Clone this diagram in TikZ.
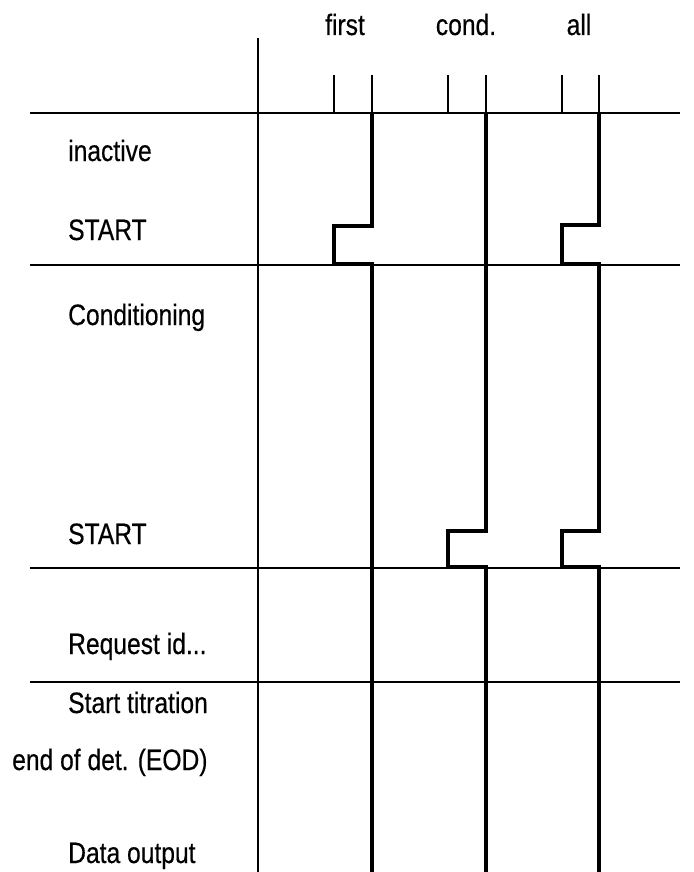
\documentclass[tikz,border=0pt]{standalone}
\usepackage{fontspec}
\setmainfont{Liberation Sans}[FakeStretch=0.835,FakeBold=0.4]
\begin{document}
\begin{tikzpicture}[x=1pt,y=-1pt,
  thin rule/.style={line width=1.8pt},
  signal/.style={line width=4.5pt,line join=miter,line cap=butt},
  label/.style={inner sep=0pt,font=\fontsize{29.5}{34}\selectfont}]
\useasboundingbox (0,0) rectangle (693,872);

% frame: column divider and row separators
\draw[thin rule] (258,38) -- (258,872);
\foreach \yy in {113,265,568,682}
  \draw[thin rule] (30,\yy) -- (680,\yy);

% short marks above each signal column
\foreach \xx in {334,372,448,486,562,599}
  \draw[thin rule] (\xx,75) -- (\xx,113);

% column headings
\node[label,anchor=base] (hfirst) at (345,35) {first};
\node[label,anchor=base] (hcond) at (466,35) {cond.};
\node[label,anchor=base] (hall) at (579,35) {all};

% row labels
\node[label,anchor=base west] (l1) at (68,161) {inactive};
\node[label,anchor=base west] (l2) at (68,240) {START};
\node[label,anchor=base west] (l3) at (68,325) {Conditioning};
\node[label,anchor=base west] (l4) at (68,544) {START};
\node[label,anchor=base west] (l5) at (68,654) {Request id...};
\node[label,anchor=base west] (l6) at (68,713) {Start titration};
\node[label,anchor=base west] (l7) at (12,770) {end of det. (EOD)};
\node[label,anchor=base west] (l8) at (68,863) {Data output};

% signal traces
\draw[signal] (372,113) -- (372,226) -- (334,226) -- (334,264) -- (372,264) -- (372,872);
\draw[signal] (486,113) -- (486,531) -- (448,531) -- (448,567) -- (486,567) -- (486,872);
\draw[signal] (599,113) -- (599,225) -- (562,225) -- (562,264) -- (599,264)
  -- (599,531) -- (562,531) -- (562,567) -- (599,567) -- (599,872);
\end{tikzpicture}
\end{document}
